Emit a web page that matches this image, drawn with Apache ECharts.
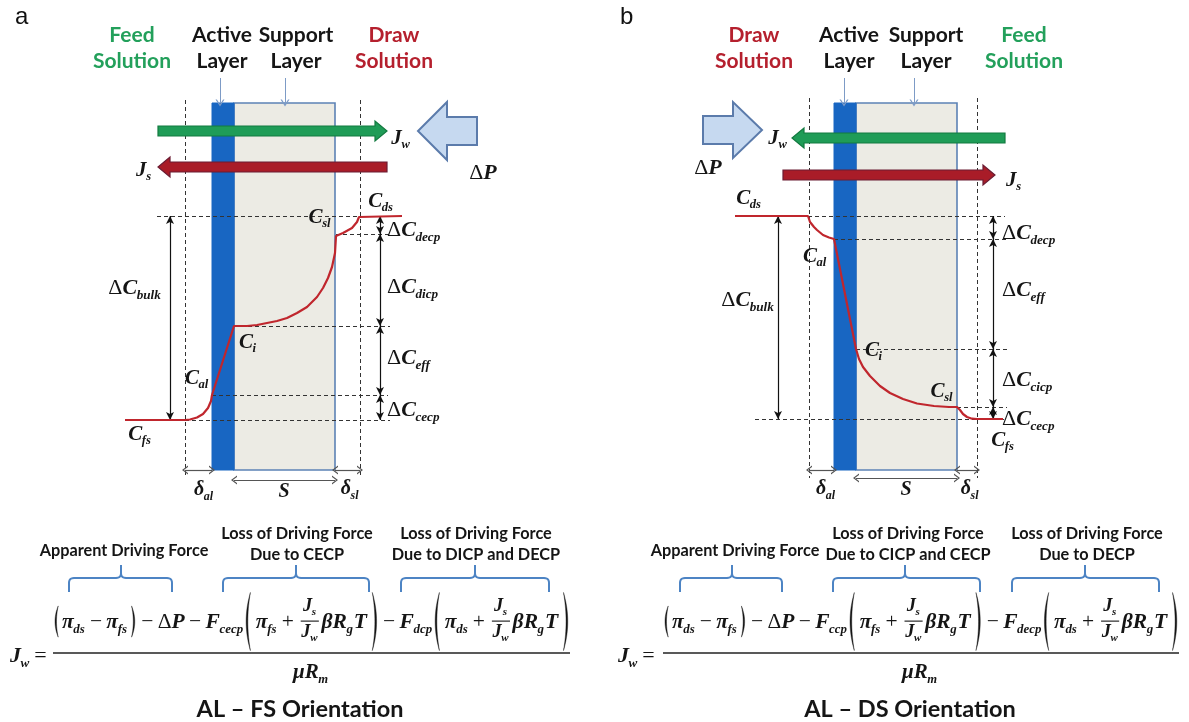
<!DOCTYPE html>
<html><head><meta charset="utf-8"><title>FO concentration profiles</title>
<script src="https://cdn.jsdelivr.net/npm/echarts@6/dist/echarts.min.js"></script>
<style>html,body{margin:0;padding:0;background:#fff;}#chart{width:1189px;height:722px;}</style>
</head><body><div id="chart"></div>
<script>
// ================= DATA =================
// x = position across the membrane (0 = active-layer face), y = solute concentration above C_fs
const layerNames = ['Active Layer', 'Support Layer'];
const layerEdgesA = [0, 22, 123];        // AL face, AL/support interface, support face
const layerEdgesB = [0, 22, 123];
const boundaryA = [-27, 148];            // outer edges of the two boundary layers (δ_al, δ_sl)
const boundaryB = [-25, 143];
const levelsA = [204, 186, 94, 25, 0];   // C_ds, C_sl, C_i, C_al, C_fs   (AL-FS)
const levelsB = [203, 180, 70, 12, 0];   // C_ds, C_al, C_i, C_sl, C_fs   (AL-DS)
const profileA = [[-87,0],[-27,0],[-22,0.5],[-15,2.5],[-9,6],[-4,12],[-1,19],[0,25],[22,94],[35,94],[45,95],[55,97],[65,99],[75,102],[85,107],[95,113],[105,123],[111,132],[116,142],[120,153],[123,167],[124,184],[131,187],[140,192],[145,198],[147,203],[148,204],[190,204]];
const profileB = [[-99,203],[-26,203],[-24,197],[-20,192],[-17,189],[-11,184],[-5,181.5],[0,180],[22,70],[25,60],[29,52],[36,43],[46,33],[56,26],[69,20],[83,15.5],[100,13],[115,12],[123,12],[126,9],[129,5],[133,2],[138,0.3],[143,0],[169,0]];
const headingsA = [['Feed','Solution','feed'],['Active','Layer','ink'],['Support','Layer','ink'],['Draw','Solution','draw']];
const headingsB = [['Draw','Solution','draw'],['Active','Layer','ink'],['Support','Layer','ink'],['Feed','Solution','feed']];
const braceTextA = [['Apparent Driving Force'],['Loss of Driving Force','Due to CECP'],['Loss of Driving Force','Due to DICP and DECP']];
const braceTextB = [['Apparent Driving Force'],['Loss of Driving Force','Due to CICP and CECP'],['Loss of Driving Force','Due to DECP']];
const subsA = ['cecp','dcp'];
const subsB = ['ccp','decp'];
const titles = ['AL – FS Orientation','AL – DS Orientation'];

// ================= STYLE / LAYOUT =================
const SERIF = '"Liberation Serif","Times New Roman","DejaVu Serif",serif';
const SANS = 'Lato,"Open Sans","Noto Sans",sans-serif';
const INK = '#151515';
const COLORS = {feed:'#23a05b', draw:'#b5202e', ink:'#151515'};
const CHEV = 'path://M5,0 L10,10 L8.4,10 L5,3.2 L1.6,10 L0,10 Z';

const PA = {
  g:0, edges:layerEdgesA, span:[-50,317], bnd:boundaryA, vspan:[320,-55], lv:levelsA, profile:profileA,
  guideX:[[-55,178],[124,178],[22,178],[0,176],[-27,178]], bulkX:-42, stackX:168, dY:-50, sY:-60,
  pointers:[[8,342,8,317],[73,342,73,317]],
  green:{tail:-54,tip:175,y:289}, red:{tail:175,tip:-54,y:253},
  big:{tail:265,tip:206,head:235,y:289,shaft:14,half:29},
  labels:[['C','ds',169,219,'c'],['C','sl',108,203,'c'],['C','i',36,78,'c'],['C','al',-15,42,'c'],['C','fs',-72,-14,'c'],
    ['ΔC','bulk',-77,132,'c'],['ΔC','decp',175,190,'l'],['ΔC','dicp',175,133,'l'],['ΔC','eff',175,62,'l'],['ΔC','cecp',175,10,'l'],
    ['δ','al',-8,-70,'c'],['S','',72,-72,'c'],['δ','sl',138,-69,'c'],['J','w',189,282,'c'],['J','s',-68,250,'c'],['ΔP','',271,247,'c']],
  headX:[132,222,296,394], letter:['a',15],
  braces:[[69,172,121],[223,369,296],[401,549,475]], braceTextX:[124,297,476], braceText:braceTextA,
  eq:{x0:55,x1:568,jx:10,den:311,subs:subsA}, title:[titles[0],300]
};
const PB = {
  g:1, edges:layerEdgesB, span:[-51,316], bnd:boundaryB, vspan:[321,-59], lv:levelsB, profile:profileB,
  guideX:[[-26,171],[0,173],[22,173],[123,173],[-79,173]], bulkX:-56, stackX:159, dY:-51, sY:-59,
  pointers:[[10,341,10,316],[80,341,80,316]],
  green:{tail:171,tip:-42,y:281}, red:{tail:-51,tip:161,y:244},
  big:{tail:-131,tip:-72,head:-101,y:289,shaft:14,half:28},
  labels:[['C','ds',-85,221,'c'],['C','al',-19,163,'c'],['C','i',40,69,'c'],['C','sl',108,28,'c'],['C','fs',169,-21,'c'],
    ['ΔC','bulk',-86,119,'c'],['ΔC','decp',168,186,'l'],['ΔC','eff',168,129,'l'],['ΔC','cicp',168,39,'l'],['ΔC','cecp',168,0,'l'],
    ['δ','al',-8,-70,'c'],['S','',72,-71,'c'],['δ','sl',136,-70,'c'],['J','w',-56,281,'c'],['J','s',180,239,'c'],['ΔP','',-126,251,'c']],
  headX:[754,849,926,1024], letter:['b',620],
  braces:[[680,782,732],[833,980,905],[1012,1159,1085]], braceTextX:[735,908,1087], braceText:braceTextB,
  eq:{x0:665,x1:1177,jx:618,den:920,subs:subsB}, title:[titles[1],910]
};

function ml(g, lines, lineStyle, symbol, symbolSize, z){
  return {type:'line', xAxisIndex:g, yAxisIndex:g, data:[], silent:true, z,
    markLine:{silent:true, animation:false, z, symbol, symbolSize, label:{show:false}, lineStyle, emphasis:{disabled:true},
      data:lines.map(([x1,y1,x2,y2])=>[{coord:[x1,y1]},{coord:[x2,y2]}])}};
}
function panelSeries(P){
  const g=P.g, e=P.edges, lv=P.lv;
  const guides = P.guideX.map((xx,i)=>[xx[0],lv[i],xx[1],lv[i]]);
  guides.push([P.bnd[0],P.vspan[0],P.bnd[0],P.vspan[1]],[P.bnd[1],P.vspan[0],P.bnd[1],P.vspan[1]]);
  const dims=[[P.bulkX,lv[4],P.bulkX,lv[0]]];
  for(let i=0;i<lv.length-1;i++) dims.push([P.stackX,lv[i],P.stackX,lv[i+1]]);
  const widths=[[P.bnd[0],P.dY,e[0],P.dY],[e[1],P.sY,e[2],P.sY],[e[2],P.dY,P.bnd[1],P.dY]];
  return [
    {type:'custom', name:layerNames.join('/'), xAxisIndex:g, yAxisIndex:g, silent:true, z:1, clip:false,
      data:[[e[1],e[2],P.span[0],P.span[1],0],[e[0],e[1],P.span[0],P.span[1],1]],
      encode:{x:[0,1],y:[2,3]},
      renderItem:(params,api)=>{
        const p0=api.coord([api.value(0),api.value(3)]), p1=api.coord([api.value(1),api.value(2)]);
        const active=api.value(4)===1;
        return {type:'rect', z2:active?2:1, shape:{x:p0[0],y:p0[1],width:p1[0]-p0[0],height:p1[1]-p0[1]},
          style: active?{fill:'#1866c2',stroke:'#1866c2',lineWidth:1}:{fill:'#ecebe4',stroke:'#5c82b5',lineWidth:1.6}};
      }},
    ml(g, guides, {color:'#333',width:1,type:[4,3]}, ['none','none'], 0, 2),
    ml(g, dims, {color:'#111',width:1.2,type:'solid'}, ['arrow','arrow'], [6,8], 6),
    ml(g, widths, {color:'#555',width:1.2,type:'solid'}, [CHEV,CHEV], [9,6], 6),
    ml(g, P.pointers, {color:'#7d9bc6',width:1,type:'solid'}, ['none',CHEV], [9,7], 6),
    {type:'line', name:'profile', xAxisIndex:g, yAxisIndex:g, data:P.profile, showSymbol:false, symbol:'none', silent:true, z:8, clip:false,
      lineStyle:{color:'#c0262d',width:2.2}}
  ];
}

const chart = echarts.init(document.getElementById('chart'));
chart.setOption({
  animation:false, backgroundColor:'#fff',
  grid:[{left:0,top:0,width:595,height:722},{left:595,top:0,width:594,height:722}],
  xAxis:[{type:'value',gridIndex:0,min:-212,max:383,show:false,splitLine:{show:false}},{type:'value',gridIndex:1,min:-239,max:355,show:false,splitLine:{show:false}}],
  yAxis:[{type:'value',gridIndex:0,min:-302,max:420,show:false,splitLine:{show:false}},{type:'value',gridIndex:1,min:-303,max:419,show:false,splitLine:{show:false}}],
  series:[...panelSeries(PA), ...panelSeries(PB)]
});

// ================= annotation helpers =================
const ctx=document.createElement('canvas').getContext('2d');
function tw(t,font){ctx.font=font;return ctx.measureText(t).width;}
const midCache={};
function midOff(font){
  if(midCache[font]!=null) return midCache[font];
  ctx.font=font; ctx.textBaseline='alphabetic'; const a=ctx.measureText('H').actualBoundingBoxAscent;
  ctx.textBaseline='middle'; const b=ctx.measureText('H').actualBoundingBoxAscent; ctx.textBaseline='alphabetic';
  return (midCache[font]=a-b);
}
const G=[];
function txt(text,font,x,y,fill,align){
  G.push({type:'text',x,y,z:20,silent:true,style:{text,font,fill:fill||INK,textAlign:align||'left',textVerticalAlign:'middle',align:align||'left',verticalAlign:'middle'}});
}
function tokStyle(k,S){
  switch(k){
    case 'm': return {font:`italic bold ${S.toFixed(2)}px ${SERIF}`,dy:0,padL:0,padR:0};
    case 'g': return {font:`italic bold ${S.toFixed(2)}px ${SERIF}`,dy:0,padL:0,padR:0};
    case 'u': return {font:`${S.toFixed(2)}px ${SERIF}`,dy:0,padL:0,padR:0};
    case 's': return {font:`italic bold ${(S*0.6).toFixed(2)}px ${SERIF}`,dy:S*0.22,padL:-S*0.02,padR:S*0.04};
    case 'o': return {font:`${S.toFixed(2)}px ${SERIF}`,dy:0,padL:S*0.2,padR:S*0.2};
  }
}
function layoutRow(tokens,S){
  let x=0; const items=[];
  for(const [k,t] of tokens){ const st=tokStyle(k,S); x+=st.padL; items.push({text:t,font:st.font,x,dy:st.dy}); x+=tw(t,st.font)+st.padR; }
  return {items,width:x};
}
function emitRow(row,x0,base,fill){ for(const it of row.items) txt(it.text,it.font,x0+it.x,base+it.dy-midOff(it.font),fill); }
function px(g,p){return chart.convertToPixel({gridIndex:g},p);}

function labelTokens(main,sub){
  const map={'C':[[['m','C']],21],'ΔC':[[['u','Δ'],['m','C']],22],'δ':[[['g','δ']],20],'S':[[['m','S']],20],'J':[[['m','J']],21],'ΔP':[[['u','Δ'],['m','P']],22]};
  const [tk,S]=map[main]; const t=tk.slice(); if(sub) t.push(['s',sub]); return [t,S];
}
function quad(p0,p1,p2,n){const o=[];for(let i=1;i<=n;i++){const t=i/n,a=(1-t)*(1-t),b=2*(1-t)*t,c=t*t;o.push([a*p0[0]+b*p1[0]+c*p2[0],a*p0[1]+b*p1[1]+c*p2[1]]);}return o;}
function paren(xe,mid,h,w,th,dir){
  const top=[xe+dir*w,mid-h/2], bot=[xe+dir*w,mid+h/2];
  const outer=[top].concat(quad(top,[xe-dir*w,mid],bot,18));
  const inner=quad(bot,[xe-dir*w+dir*2*th,mid],top,18);
  G.push({type:'polygon',z:20,silent:true,shape:{points:outer.concat(inner)},style:{fill:INK,stroke:INK,lineWidth:0.4}});
}
function layoutEq(tokens,S){
  let x=0; const out=[];
  for(const tk of tokens){
    if(Array.isArray(tk)){const st=tokStyle(tk[0],S);x+=st.padL;out.push({kind:'t',text:tk[1],font:st.font,x,dy:st.dy});x+=tw(tk[1],st.font)+st.padR;}
    else if(tk.p){const big=tk.p==='PL'||tk.p==='PR';const slot=(big?0.55:0.42)*S;out.push({kind:'p',x,slot,big,left:tk.p==='pl'||tk.p==='PL'});x+=slot;}
    else {const fs=0.85*S;const num=layoutRow([['m','J'],['s','s']],fs),den=layoutRow([['m','J'],['s','w']],fs);
      const w=Math.max(num.width,den.width)+0.3*S;out.push({kind:'f',x,w,num,den});x+=w;}
  }
  return {out,width:x};
}
function emitEq(L,x0,base,S){
  for(const it of L.out){
    if(it.kind==='t') txt(it.text,it.font,x0+it.x,base+it.dy-midOff(it.font));
    else if(it.kind==='p'){
      const h=(it.big?2.7:1.45)*S,w=(it.big?0.2:0.15)*S,th=(it.big?0.08:0.07)*S,mid=base-0.3*S,ins=0.1*S;
      if(it.left) paren(x0+it.x+ins,mid,h,w,th,1); else paren(x0+it.x+it.slot-ins,mid,h,w,th,-1);
    } else {
      const bar=base-0.32*S,cx=x0+it.x+it.w/2;
      G.push({type:'line',z:20,silent:true,shape:{x1:x0+it.x+0.12*S,y1:bar,x2:x0+it.x+it.w-0.12*S,y2:bar},style:{stroke:INK,lineWidth:1.1}});
      emitRow(it.num,cx-it.num.width/2,bar-0.45*S);
      emitRow(it.den,cx-it.den.width/2,bar+0.72*S);
    }
  }
}
function eqTokens(fc,fd){
  return [{p:'pl'},['g','π'],['s','ds'],['o','−'],['g','π'],['s','fs'],{p:'pr'},
    ['o','−'],['u','Δ'],['m','P'],['o','−'],['m','F'],['s',fc],{p:'PL'},
    ['g','π'],['s','fs'],['o','+'],{frac:1},['g','β'],['m','R'],['s','g'],['m','T'],{p:'PR'},
    ['o','−'],['m','F'],['s',fd],{p:'PL'},['g','π'],['s','ds'],['o','+'],{frac:1},['g','β'],['m','R'],['s','g'],['m','T'],{p:'PR'}];
}
function brace(x1,x2,c){
  const yT=578,yE=592,yTip=565,r=5,col='#4d84c4';
  const left=[[x1,yE],[x1,yT+r]].concat(quad([x1,yT+r],[x1,yT],[x1+r,yT],6)).concat([[c-r,yT]]).concat(quad([c-r,yT],[c,yT],[c,yT-r],6)).concat([[c,yTip]]);
  const right=[[c,yT-r]].concat(quad([c,yT-r],[c,yT],[c+r,yT],6)).concat([[x2-r,yT]]).concat(quad([x2-r,yT],[x2,yT],[x2,yT+r],6)).concat([[x2,yE]]);
  for(const pts of [left,right]) G.push({type:'polyline',z:20,silent:true,shape:{points:pts},style:{stroke:col,lineWidth:2,fill:null}});
}

function annotate(P){
  const g=P.g;
  txt(P.letter[0],`24px "Liberation Sans",Arial,sans-serif`,P.letter[1],17,'#111');
  const hs = g===0?headingsA:headingsB;
  hs.forEach((h,i)=>{ txt(h[0],`bold 21px ${SANS}`,P.headX[i],35,COLORS[h[2]],'center'); txt(h[1],`bold 21px ${SANS}`,P.headX[i],61,COLORS[h[2]],'center'); });
  const flux=(a,fill,stroke)=>{
    const t=px(g,[a.tail,a.y]),p=px(g,[a.tip,a.y]);const d=Math.sign(p[0]-t[0]),y=t[1],sh=5,hh=10,hl=12,hb=p[0]-d*hl;
    G.push({type:'polygon',z:15,silent:true,shape:{points:[[t[0],y-sh],[hb,y-sh],[hb,y-hh],[p[0],y],[hb,y+hh],[hb,y+sh],[t[0],y+sh]]},style:{fill,stroke,lineWidth:1.2}});
  };
  flux(P.green,'#1f9c57','#137a40');
  flux(P.red,'#a91c28','#6b1c33');
  const b=P.big;
  const pts=[[b.tail,b.y+b.shaft],[b.head,b.y+b.shaft],[b.head,b.y+b.half],[b.tip,b.y],[b.head,b.y-b.half],[b.head,b.y-b.shaft],[b.tail,b.y-b.shaft]].map(p=>px(g,p));
  G.push({type:'polygon',z:15,silent:true,shape:{points:pts},style:{fill:'#c6d9f0',stroke:'#5b7bab',lineWidth:2}});
  for(const [m,s,x,y,anc] of P.labels){
    const [tk,S]=labelTokens(m,s); const row=layoutRow(tk,S); const p=px(g,[x,y]);
    emitRow(row, anc==='c'?p[0]-row.width/2:p[0], p[1]+0.27*S);
  }
  const BF=`bold 16.3px ${SANS}`;
  P.braces.forEach((br,i)=>{
    brace(br[0],br[1],br[2]);
    const lines=P.braceText[i];
    if(lines.length===1) txt(lines[0],BF,P.braceTextX[i],551,INK,'center');
    else { txt(lines[0],BF,P.braceTextX[i],534,INK,'center'); txt(lines[1],BF,P.braceTextX[i],555,INK,'center'); }
  });
  const E=P.eq, toks=eqTokens(E.subs[0],E.subs[1]);
  let S=21; let L=layoutEq(toks,S); S=S*(E.x1-E.x0+0.2*S)/L.width; L=layoutEq(toks,S);
  emitEq(L,E.x0-0.1*S,628,S);
  G.push({type:'line',z:20,silent:true,shape:{x1:E.x0-2,y1:653,x2:E.x1+2,y2:653},style:{stroke:'#222',lineWidth:1.5}});
  const jw=layoutRow([['m','J'],['s','w']],22); emitRow(jw,E.jx,662);
  const eqf=`22px ${SERIF}`; txt('=',eqf,E.jx+jw.width+4,662-midOff(eqf));
  const den=layoutRow([['g','μ'],['m','R'],['s','m']],21); emitRow(den,E.den-den.width/2,678);
  txt(P.title[0],`bold 23.5px ${SANS}`,P.title[1],709,INK,'center');
}
annotate(PA); annotate(PB);
chart.setOption({graphic:{elements:G}});
</script></body></html>
